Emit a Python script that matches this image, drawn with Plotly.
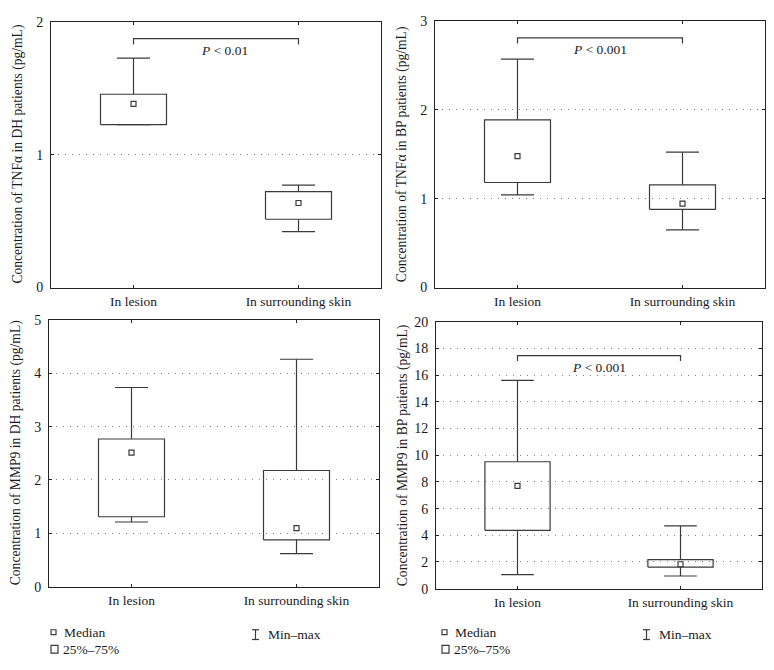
import plotly.graph_objects as go

W, H = 774, 670

categories = ["In lesion", "In surrounding skin"]

# TNFα in DH patients
tnf_dh_min = [1.226, 0.421]
tnf_dh_q1 = [1.226, 0.514]
tnf_dh_median = [1.381, 0.636]
tnf_dh_q3 = [1.454, 0.722]
tnf_dh_max = [1.726, 0.771]

# TNFα in BP patients
tnf_bp_min = [1.042, 0.649]
tnf_bp_q1 = [1.181, 0.880]
tnf_bp_median = [1.478, 0.943]
tnf_bp_q3 = [1.885, 1.155]
tnf_bp_max = [2.567, 1.522]

# MMP9 in DH patients
mmp_dh_min = [1.213, 0.622]
mmp_dh_q1 = [1.311, 0.878]
mmp_dh_median = [2.512, 1.098]
mmp_dh_q3 = [2.768, 2.177]
mmp_dh_max = [3.732, 4.262]

# MMP9 in BP patients
mmp_bp_min = [1.05, 0.95]
mmp_bp_q1 = [4.37, 1.61]
mmp_bp_median = [7.71, 1.83]
mmp_bp_q3 = [9.51, 2.17]
mmp_bp_max = [15.61, 4.71]

# significance brackets: [bracket level, bracket end level]
tnf_dh_bracket = [1.873, 1.829]
tnf_bp_bracket = [2.806, 2.743]
mmp_bp_bracket = [17.46, 17.07]
tnf_dh_p = "<i>P</i> &lt; 0.01"
tnf_bp_p = "<i>P</i> &lt; 0.001"
mmp_bp_p = "<i>P</i> &lt; 0.001"

y_titles = [
    "Concentration of TNFα in DH patients (pg/mL)",
    "Concentration of TNFα in BP patients (pg/mL)",
    "Concentration of MMP9 in DH patients (pg/mL)",
    "Concentration of MMP9 in BP patients (pg/mL)",
]
y_ranges = [[0, 2], [0, 3], [0, 5], [0, 20]]
y_dticks = [1, 1, 1, 2]

FONT = "Liberation Serif, Times New Roman, serif"
LINE = "#3a3a3a"
FRAME = "#222222"
TXT = "#1a1a1a"

def px(x):
    return x / W

def py(y):
    return 1 - y / H

# panel pixel boxes: (left, right, top, bottom)
panels = [(51, 381, 15, 287), (435, 765, 14, 287), (49, 379, 320, 593), (436, 762, 322, 595)]

datasets = [
    (tnf_dh_min, tnf_dh_q1, tnf_dh_median, tnf_dh_q3, tnf_dh_max),
    (tnf_bp_min, tnf_bp_q1, tnf_bp_median, tnf_bp_q3, tnf_bp_max),
    (mmp_dh_min, mmp_dh_q1, mmp_dh_median, mmp_dh_q3, mmp_dh_max),
    (mmp_bp_min, mmp_bp_q1, mmp_bp_median, mmp_bp_q3, mmp_bp_max),
]
brackets = [(tnf_dh_bracket, tnf_dh_p, 0.55), (tnf_bp_bracket, tnf_bp_p, 0.5), None, (mmp_bp_bracket, mmp_bp_p, 0.5)]

fig = go.Figure()
annotations = []
shapes = []
BW = 0.2   # half box width
CW = 0.1   # half cap width

for k, (ds, pan) in enumerate(zip(datasets, panels)):
    mn, q1, med, q3, mx = ds
    xa = "x" if k == 0 else f"x{k+1}"
    ya = "y" if k == 0 else f"y{k+1}"
    bx, by = [], []
    for i in range(len(categories)):
        bx += [i - BW, i + BW, i + BW, i - BW, i - BW, None]
        by += [q1[i], q1[i], q3[i], q3[i], q1[i], None]
        # upper whisker
        bx += [i, i, None, i - CW, i + CW, None]
        by += [q3[i], mx[i], None, mx[i], mx[i], None]
        # lower whisker
        bx += [i, i, None, i - CW, i + CW, None]
        by += [q1[i], mn[i], None, mn[i], mn[i], None]
    fig.add_trace(go.Scatter(x=bx, y=by, mode="lines", line=dict(color=LINE, width=1.2),
                             xaxis=xa, yaxis=ya, showlegend=False, hoverinfo="skip"))
    fig.add_trace(go.Scatter(x=list(range(len(categories))), y=med, mode="markers",
                             marker=dict(symbol="square-open", size=5, color=LINE, line=dict(width=1.2)),
                             xaxis=xa, yaxis=ya, showlegend=False))
    br = brackets[k]
    if br is not None:
        (lvl, end), ptxt, tx = br
        fig.add_trace(go.Scatter(x=[0, 0, 1, 1], y=[end, lvl, lvl, end], mode="lines",
                                 line=dict(color=LINE, width=1.2), xaxis=xa, yaxis=ya,
                                 showlegend=False, hoverinfo="skip"))
        annotations.append(dict(x=tx, y=lvl, xref=xa, yref=ya, text=ptxt, showarrow=False,
                                yanchor="top", yshift=-2, font=dict(size=13.5, color=TXT, family=FONT)))
    l, r, t, b = pan
    axis_common = dict(showline=True, linecolor=FRAME, linewidth=1, mirror="allticks",
                       ticks="inside", ticklen=3, tickcolor=FRAME, zeroline=False)
    fig.layout[("xaxis" if k == 0 else f"xaxis{k+1}")] = dict(
        domain=[px(l), px(r)], anchor=ya, range=[-0.5, 1.5],
        tickvals=list(range(len(categories))), ticktext=categories, showgrid=False,
        ticklabelstandoff=1, tickfont=dict(size=13.5, family=FONT, color=TXT), **axis_common)
    fig.layout[("yaxis" if k == 0 else f"yaxis{k+1}")] = dict(
        domain=[py(b), py(t)], anchor=xa, range=y_ranges[k], dtick=y_dticks[k],
        showgrid=True, gridcolor="#808080", gridwidth=1, griddash="1px,6px",
        ticklabelstandoff=4, tickfont=dict(size=14, family=FONT, color=TXT), **axis_common)
    annotations.append(dict(x=px(l - 33), y=py((t + b) / 2), xref="paper", yref="paper",
                            text=y_titles[k], textangle=-90, showarrow=False,
                            xanchor="center", yanchor="middle",
                            font=dict(size=13.6, family=FONT, color=TXT)))

# legends (bottom-left and bottom-right)
for ox in (0, 391):
    shapes.append(dict(type="rect", xref="paper", yref="paper", x0=px(51 + ox), x1=px(56 + ox),
                       y0=py(642), y1=py(637), line=dict(color=LINE, width=1.2)))
    shapes.append(dict(type="rect", xref="paper", yref="paper", x0=px(51 + ox), x1=px(58 + ox),
                       y0=py(661), y1=py(653), line=dict(color=LINE, width=1.2)))
    ix = 255.5 + ox
    for (x0, y0, x1, y1) in [(ix, 637, ix, 647), (ix - 3.5, 637, ix + 3.5, 637), (ix - 3.5, 647, ix + 3.5, 647)]:
        shapes.append(dict(type="line", xref="paper", yref="paper", x0=px(x0), x1=px(x1),
                           y0=py(y0), y1=py(y1), line=dict(color=LINE, width=1.2)))
    for txt, x, y in [("Median", 62 + ox, 640), ("25%–75%", 61 + ox, 657), ("Min–max", 266 + ox, 642)]:
        annotations.append(dict(x=px(x), y=py(y), xref="paper", yref="paper", text=txt,
                                showarrow=False, xanchor="left", yanchor="middle",
                                font=dict(size=13.5, family=FONT, color=TXT)))

fig.update_layout(width=W, height=H, margin=dict(l=0, r=0, t=0, b=0),
                  paper_bgcolor="white", plot_bgcolor="white",
                  annotations=annotations, shapes=shapes, showlegend=False,
                  font=dict(family=FONT))

fig.write_html("out.html", config={"displayModeBar": False},
               post_script="document.body.style.margin='0';")
